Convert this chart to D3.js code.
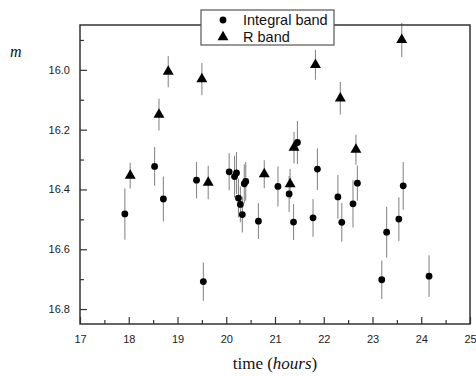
<!DOCTYPE html>
<html>
<head>
<meta charset="utf-8">
<script src="https://cdn.jsdelivr.net/npm/d3@7"></script>
<style>
  html, body { margin: 0; padding: 0; background: #fff; }
  svg { display: block; }
</style>
</head>
<body>
<svg id="chart" width="476" height="376"></svg>
<script>
// Integral band
const intTime = [17.92, 18.53, 18.71, 19.39, 19.53, 20.06, 20.17, 20.21, 20.25, 20.29, 20.33, 20.37, 20.40, 20.66, 21.06, 21.29, 21.38, 21.46, 21.78, 21.87, 22.29, 22.37, 22.60, 22.69, 23.19, 23.29, 23.54, 23.63, 24.16];
const intMag  = [16.482, 16.323, 16.432, 16.369, 16.708, 16.341, 16.357, 16.345, 16.429, 16.450, 16.484, 16.381, 16.373, 16.506, 16.390, 16.415, 16.509, 16.243, 16.495, 16.332, 16.425, 16.510, 16.448, 16.379, 16.702, 16.543, 16.499, 16.388, 16.690];
const intErr  = [0.086, 0.065, 0.075, 0.061, 0.064, 0.062, 0.070, 0.070, 0.065, 0.060, 0.060, 0.065, 0.065, 0.060, 0.067, 0.060, 0.060, 0.072, 0.063, 0.070, 0.073, 0.065, 0.079, 0.059, 0.064, 0.085, 0.073, 0.080, 0.070];
// R band
const rTime = [18.03, 18.62, 18.81, 19.50, 19.63, 20.78, 21.31, 21.39, 21.83, 22.34, 22.66, 23.60];
const rMag  = [16.354, 16.150, 16.006, 16.031, 16.377, 16.349, 16.382, 16.260, 15.983, 16.095, 16.267, 15.900];
const rErr  = [0.043, 0.053, 0.052, 0.054, 0.056, 0.047, 0.050, 0.053, 0.050, 0.054, 0.050, 0.057];

const xMajor = [17, 18, 19, 20, 21, 22, 23, 24, 25];
const xMinor = [17.5, 18.5, 19.5, 20.5, 21.5, 22.5, 23.5, 24.5];
const yMajor = [16.0, 16.2, 16.4, 16.6, 16.8];
const yMinor = [15.9, 16.1, 16.3, 16.5, 16.7];
const legendLabels = ["Integral band", "R band"];

const svg = d3.select("#chart");
const L = 80, R = 470, T = 25, B = 324;
const x = d3.scaleLinear().domain([17, 25]).range([L, R]);
const y = d3.scaleLinear().domain([15.85, 16.85]).range([T, B]);

const axisColor = "#333";
const sans = "Arial, 'Liberation Sans', sans-serif";
const serif = "'Times New Roman', 'Liberation Serif', serif";

// error bars
const errColor = "#8a8a8a";
const intData = intTime.map((t, i) => ({t, m: intMag[i], e: intErr[i]}));
const rData = rTime.map((t, i) => ({t, m: rMag[i], e: rErr[i]}));

svg.append("g").selectAll("line").data(intData.concat(rData)).join("line")
  .attr("x1", d => x(d.t)).attr("x2", d => x(d.t))
  .attr("y1", d => y(d.m - d.e)).attr("y2", d => y(d.m + d.e))
  .attr("stroke", errColor).attr("stroke-width", 1.1);

// frame
svg.append("rect").attr("x", L).attr("y", T).attr("width", R - L).attr("height", B - T)
  .attr("fill", "none").attr("stroke", axisColor).attr("stroke-width", 1.5);

// x axis ticks (inward)
const xAxisMajor = d3.axisBottom(x).tickValues(xMajor).tickSizeInner(-7).tickSizeOuter(0).tickPadding(11).tickFormat(d3.format("d"));
const gx = svg.append("g").attr("transform", `translate(0,${B})`).call(xAxisMajor);
gx.select(".domain").remove();
gx.selectAll("line").attr("stroke", axisColor).attr("stroke-width", 1.2);
gx.selectAll("text").attr("font-family", sans).attr("font-size", 11).attr("fill", "#222");
const gxm = svg.append("g").attr("transform", `translate(0,${B})`)
  .call(d3.axisBottom(x).tickValues(xMinor).tickSizeInner(-4).tickSizeOuter(0).tickFormat(""));
gxm.select(".domain").remove();
gxm.selectAll("line").attr("stroke", axisColor).attr("stroke-width", 1.2);

// y axis ticks (inward)
const gy = svg.append("g").attr("transform", `translate(${L},0)`)
  .call(d3.axisLeft(y).tickValues(yMajor).tickSizeInner(-7).tickSizeOuter(0).tickPadding(10).tickFormat(d3.format(".1f")));
gy.select(".domain").remove();
gy.selectAll("line").attr("stroke", axisColor).attr("stroke-width", 1.2);
gy.selectAll("text").attr("font-family", sans).attr("font-size", 11).attr("fill", "#222");
const gym = svg.append("g").attr("transform", `translate(${L},0)`)
  .call(d3.axisLeft(y).tickValues(yMinor).tickSizeInner(-4).tickSizeOuter(0).tickFormat(""));
gym.select(".domain").remove();
gym.selectAll("line").attr("stroke", axisColor).attr("stroke-width", 1.2);

// markers
svg.append("g").selectAll("circle").data(intData).join("circle")
  .attr("cx", d => x(d.t)).attr("cy", d => y(d.m)).attr("r", 3.4).attr("fill", "#000");

const tri = d3.symbol().type(d3.symbolTriangle).size(52);
svg.append("g").selectAll("path").data(rData).join("path")
  .attr("transform", d => `translate(${x(d.t)},${y(d.m)})`)
  .attr("d", tri).attr("fill", "#000");

// axis titles
svg.append("text").attr("x", 10).attr("y", 57).attr("font-family", serif)
  .attr("font-style", "italic").attr("font-size", 16).attr("fill", "#111").text("m");

const xt = svg.append("text").attr("x", (L + R) / 2).attr("y", 369).attr("text-anchor", "middle")
  .attr("font-family", serif).attr("font-size", 17).attr("fill", "#111");
xt.append("tspan").text("time (");
xt.append("tspan").attr("font-style", "italic").text("hours");
xt.append("tspan").text(")");

// legend
const lg = svg.append("g");
lg.append("rect").attr("x", 201).attr("y", 10).attr("width", 133).attr("height", 35)
  .attr("fill", "#fff").attr("stroke", "#555").attr("stroke-width", 1.2);
lg.append("circle").attr("cx", 223).attr("cy", 20).attr("r", 3.4).attr("fill", "#000");
lg.append("path").attr("transform", "translate(223,37)").attr("d", tri).attr("fill", "#000");
lg.selectAll("text").data(legendLabels).join("text")
  .attr("x", 243).attr("y", (d, i) => 25 + i * 17)
  .attr("font-family", sans).attr("font-size", 14.5).attr("fill", "#111").text(d => d);
</script>
</body>
</html>
